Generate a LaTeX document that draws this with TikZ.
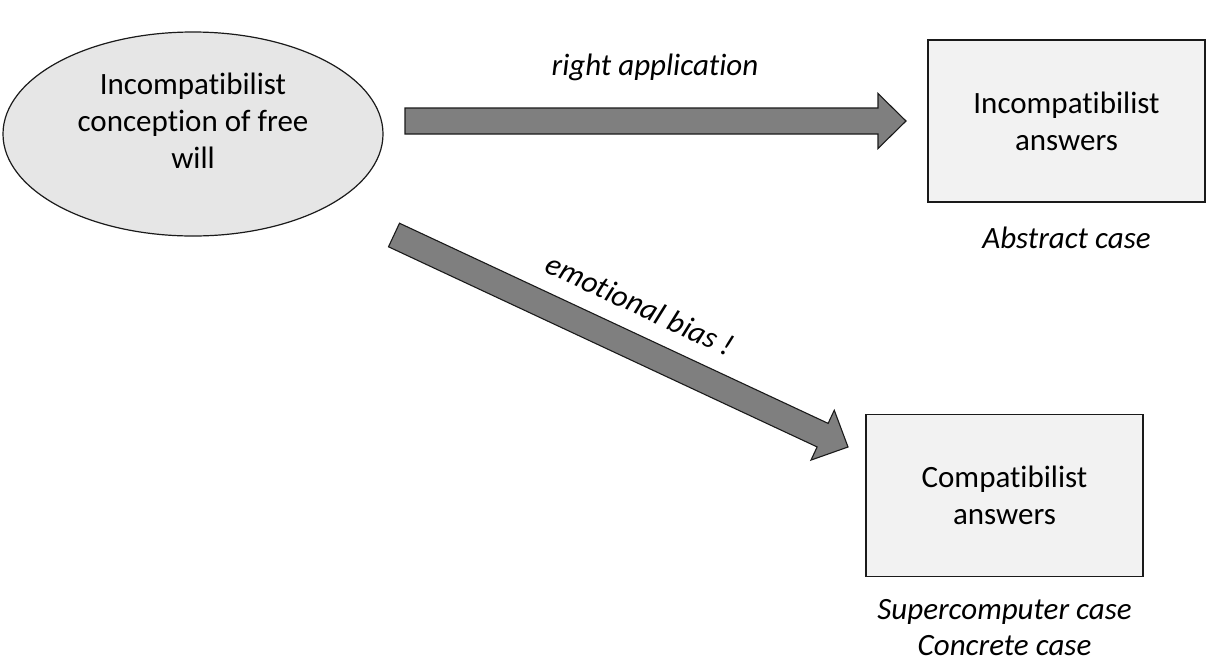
\documentclass[tikz,border=0pt]{standalone}
\usepackage{fontspec}
\setmainfont{Carlito}[Ligatures={NoCommon,NoRare}]
\usetikzlibrary{shapes.geometric,calc}
\definecolor{ideafill}{HTML}{E6E6E6}
\definecolor{answerfill}{HTML}{F2F2F2}
\definecolor{arrowfill}{HTML}{7F7F7F}
\definecolor{outline}{HTML}{1A1A1A}

% Block arrow from a tail coordinate to a tip coordinate:
% shaft 26pt wide, head 55pt wide and 28pt long.
\newcommand\blockarrow[3]{%
  \coordinate (#3) at ($(#2)!28pt!(#1)$);
  \draw[arrowbody]
    ($(#1)!13pt!90:(#2)$) -- ($(#3)!13pt!90:(#2)$) -- ($(#3)!27.5pt!90:(#2)$)
    -- (#2)
    -- ($(#3)!27.5pt!-90:(#2)$) -- ($(#3)!13pt!-90:(#2)$) -- ($(#1)!13pt!-90:(#2)$)
    -- cycle;}

\begin{document}
\begin{tikzpicture}[x=1pt,y=-1pt,
  every node/.style={inner sep=0pt, align=center, font=\fontsize{31}{37}\selectfont},
  idea/.style={ellipse, draw=outline, line width=1.2pt, fill=ideafill,
    minimum width=380pt, minimum height=204pt},
  answer/.style={rectangle, draw=outline, line width=1.3pt, fill=answerfill,
    minimum width=277pt, minimum height=162pt},
  caption/.style={font=\fontsize{31}{36}\selectfont\itshape},
  arrowbody/.style={draw=outline, line width=1.1pt, fill=arrowfill, line join=miter}
]
\useasboundingbox (0,0) rectangle (1206,662);

% concepts and answers
\node[idea] (free) at (193,134) {};
\node (freetext) at (193,121) {Incompatibilist\\conception of free\\will};
\node[answer] (incomp) at (1066.5,121) {Incompatibilist\\answers};
\node[answer] (comp) at (1004.5,495.5) {Compatibilist\\answers};

% captions under the answer boxes
\node[caption] (abstract) at (1066.5,238) {Abstract case};
\node[caption] (concrete) at (1004.5,628) {Supercomputer case\\Concrete case};

% block arrows
\coordinate (rs) at (405,121);
\coordinate (re) at (906,121);
\blockarrow{rs}{re}{rh}
\coordinate (es) at (394,235);
\coordinate (ee) at (848,447);
\blockarrow{es}{ee}{eh}

% arrow labels
\node[caption] (right) at (655,67) {right application};
\coordinate (emid) at ($(es)!0.504!(ee)$);
\node[caption, rotate=-25.03] (bias) at ($(emid)!41pt!90:(ee)$) {emotional bias !};
\end{tikzpicture}
\end{document}
